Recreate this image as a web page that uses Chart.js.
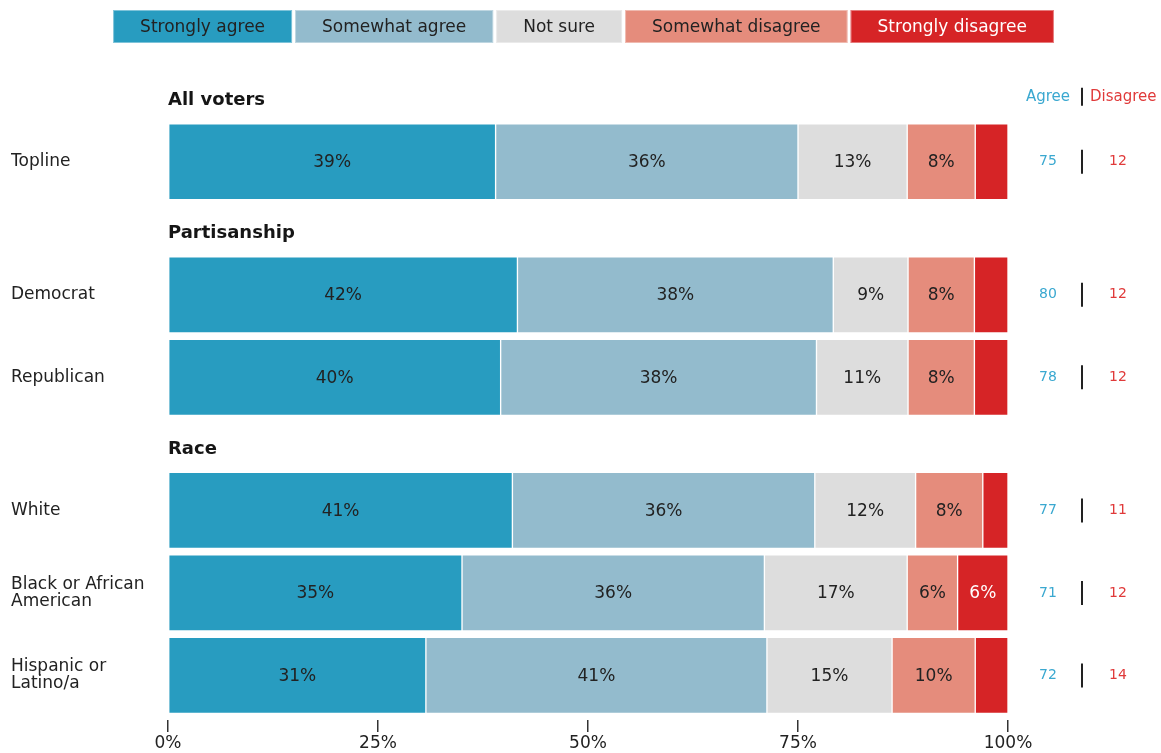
<!DOCTYPE html>
<html>
<head>
<meta charset="utf-8">
<script src="https://cdn.jsdelivr.net/npm/chart.js@4/dist/chart.umd.min.js"></script>
<style>
  html, body { margin: 0; padding: 0; background: #ffffff; }
  #wrap { position: relative; width: 1161px; height: 753px; }
</style>
</head>
<body>
<div id="wrap"><canvas id="c"></canvas></div>
<script>
// ---- Data ----
const seriesNames = ['Strongly agree', 'Somewhat agree', 'Not sure', 'Somewhat disagree', 'Strongly disagree'];
const groups = ['All voters', 'Partisanship', 'Race'];
const categories = ['Topline', 'Democrat', 'Republican', 'White', ['Black or African', 'American'], ['Hispanic or', 'Latino/a']];
const groupOf = [0, 1, 1, 2, 2, 2];
const stronglyAgree    = [39.0, 41.6, 39.6, 41.0, 35.0, 30.7];
const somewhatAgree    = [36.0, 37.6, 37.6, 36.0, 36.0, 40.6];
const notSure          = [13.0, 8.9, 10.9, 12.0, 17.0, 14.9];
const somewhatDisagree = [8.1, 7.9, 7.9, 8.0, 6.0, 9.9];
const stronglyDisagree = [3.9, 4.0, 4.0, 3.0, 6.0, 3.9];
const agreeTotals    = [75, 80, 78, 77, 71, 72];
const disagreeTotals = [12, 12, 12, 11, 12, 14];
const xTicks = [0, 25, 50, 75, 100];

// ---- Styles ----
const FONT = "'DejaVu Sans', sans-serif";
const colors = ['#289cc0', '#93bbcd', '#dddddd', '#e58c7c', '#d62426'];
const labelColors = ['#222222', '#222222', '#222222', '#222222', '#ffffff'];
const AGREE_COLOR = '#3aa8d0';
const DISAGREE_COLOR = '#e03a3a';

// ---- Row layout (in row units) ----
const HEADER_SPACE = 0.612;
const rowPos = [];
const headerPos = [];
let cursor = 0;
groups.forEach((g, gi) => {
  cursor += HEADER_SPACE;
  headerPos[gi] = cursor - 0.24;
  groupOf.forEach((grp, i) => {
    if (grp === gi) { rowPos[i] = cursor + 0.5; cursor += 1; }
  });
});
const yMax = cursor + 0.04;

const seriesValues = [stronglyAgree, somewhatAgree, notSure, somewhatDisagree, stronglyDisagree];
const datasets = seriesNames.map((name, si) => ({
  label: name,
  data: categories.map((c, i) => ({ x: seriesValues[si][i], y: rowPos[i] })),
  backgroundColor: colors[si],
  borderColor: 'rgba(255,255,255,0.35)',
  borderWidth: 1,
  borderSkipped: false,
  barThickness: 76
}));

const overlayPlugin = {
  id: 'overlay',
  afterDatasetsDraw(chart) {
    const ctx = chart.ctx;
    ctx.save();
    ctx.font = '17px ' + FONT;
    ctx.textAlign = 'center';
    ctx.textBaseline = 'middle';
    chart.data.datasets.forEach((ds, si) => {
      const meta = chart.getDatasetMeta(si);
      meta.data.forEach((el, i) => {
        const v = ds.data[i].x;
        if (v < 5) return;
        const p = el.getCenterPoint();
        ctx.fillStyle = labelColors[si];
        ctx.fillText(Math.round(v) + '%', p.x, p.y + 1);
      });
    });
    ctx.restore();
  },
  afterDraw(chart) {
    const ctx = chart.ctx;
    const ys = chart.scales.y;
    const area = chart.chartArea;
    ctx.save();
    // group headers
    ctx.font = 'bold 18px ' + FONT;
    ctx.fillStyle = '#151515';
    ctx.textAlign = 'left';
    ctx.textBaseline = 'middle';
    groups.forEach((g, gi) => {
      ctx.fillText(g, area.left, ys.getPixelForValue(headerPos[gi]));
    });
    // Agree | Disagree header
    const agreeX = area.right + 40;
    const sepX = area.right + 74;
    const disX = area.right + 110;
    const hy = ys.getPixelForValue(headerPos[0]) - 4;
    ctx.font = '15px ' + FONT;
    ctx.textAlign = 'center';
    ctx.fillStyle = AGREE_COLOR;
    ctx.fillText('Agree', agreeX, hy);
    ctx.textAlign = 'left';
    ctx.fillStyle = DISAGREE_COLOR;
    ctx.fillText('Disagree', sepX + 8, hy);
    ctx.strokeStyle = '#222';
    ctx.lineWidth = 2;
    ctx.beginPath();
    ctx.moveTo(sepX, hy - 9); ctx.lineTo(sepX, hy + 9);
    ctx.stroke();
    // totals
    ctx.font = '14px ' + FONT;
    ctx.textAlign = 'center';
    categories.forEach((c, i) => {
      const y = ys.getPixelForValue(rowPos[i]);
      ctx.fillStyle = AGREE_COLOR;
      ctx.fillText(String(agreeTotals[i]), agreeX, y);
      ctx.fillStyle = DISAGREE_COLOR;
      ctx.fillText(String(disagreeTotals[i]), disX, y);
      ctx.beginPath();
      ctx.moveTo(sepX, y - 12); ctx.lineTo(sepX, y + 12);
      ctx.stroke();
    });
    // legend
    ctx.font = '17px ' + FONT;
    const pad = 54, gap = 3, boxTop = 10, boxH = 33;
    const widths = chart.data.datasets.map(ds => ctx.measureText(ds.label).width + pad);
    const total = widths.reduce((a, b) => a + b, 0) + gap * (widths.length - 1);
    let lx = chart.width / 2 + 3 - total / 2;
    ctx.textAlign = 'center';
    ctx.textBaseline = 'middle';
    chart.data.datasets.forEach((ds, si) => {
      ctx.fillStyle = ds.backgroundColor;
      ctx.fillRect(lx, boxTop, widths[si], boxH);
      ctx.strokeStyle = 'rgba(255,255,255,0.4)';
      ctx.lineWidth = 1;
      ctx.strokeRect(lx + 0.5, boxTop + 0.5, widths[si] - 1, boxH - 1);
      ctx.fillStyle = labelColors[si];
      ctx.fillText(ds.label, lx + widths[si] / 2, boxTop + boxH / 2 + 1);
      lx += widths[si] + gap;
    });
    ctx.restore();
  }
};

new Chart(document.getElementById('c'), {
  type: 'bar',
  data: { datasets },
  plugins: [overlayPlugin],
  options: {
    indexAxis: 'y',
    responsive: true,
    maintainAspectRatio: false,
    animation: false,
    layout: { padding: { top: 70, left: 11, right: 153, bottom: 0 } },
    plugins: { legend: { display: false }, tooltip: { enabled: false } },
    scales: {
      x: {
        type: 'linear',
        stacked: true,
        min: 0,
        max: 100,
        afterBuildTicks: s => { s.ticks = xTicks.map(v => ({ value: v })); },
        afterFit: s => { s.height = 33; },
        ticks: {
          callback: v => v + '%',
          font: { family: FONT, size: 17 },
          color: '#222',
          padding: 1
        },
        grid: { drawOnChartArea: false, drawTicks: true, tickLength: 12, color: '#333', lineWidth: 1.5 },
        border: { display: false }
      },
      y: {
        type: 'linear',
        stacked: true,
        reverse: true,
        offset: false,
        min: 0,
        max: yMax,
        afterBuildTicks: s => { s.ticks = rowPos.map(v => ({ value: v })); },
        afterFit: s => { s.width = 157; },
        ticks: {
          autoSkip: false,
          crossAlign: 'far',
          callback: (v, i) => categories[i],
          font: { family: FONT, size: 17, lineHeight: 1.0 },
          color: '#222'
        },
        grid: { display: false, offset: false },
        border: { display: false }
      }
    }
  }
});
</script>
</body>
</html>
